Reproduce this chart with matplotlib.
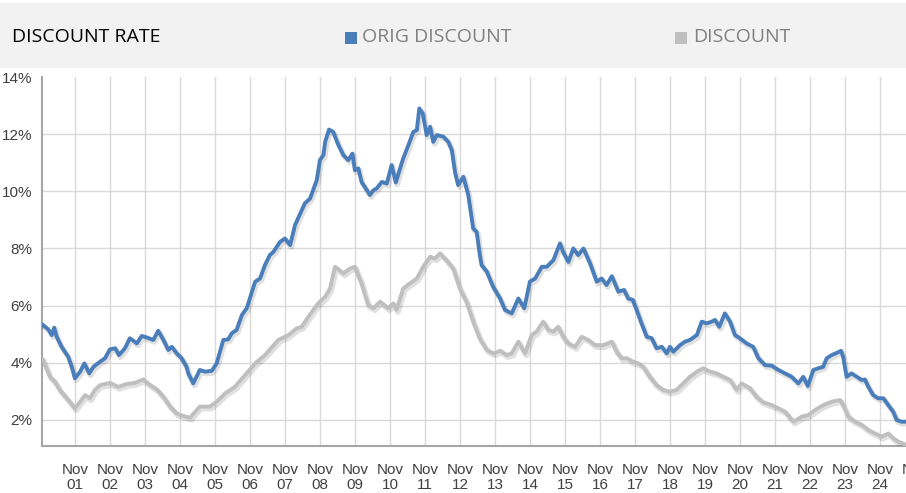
import matplotlib.pyplot as plt
import matplotlib.patheffects as pe
from matplotlib.patches import Rectangle

# dates in decimal years, values in percent
orig_dates = [2000.92, 2001.07, 2001.17, 2001.24, 2001.31, 2001.45, 2001.64, 2001.74, 2001.83, 2001.98,
              2002.10, 2002.24, 2002.36, 2002.55, 2002.69, 2002.83, 2002.98, 2003.09, 2003.26, 2003.40,
              2003.60, 2003.74, 2003.88, 2004.07, 2004.21, 2004.36, 2004.50, 2004.60, 2004.74, 2004.88,
              2005.02, 2005.07, 2005.21, 2005.40, 2005.55, 2005.74, 2005.88, 2006.07, 2006.21, 2006.31,
              2006.45, 2006.60, 2006.74, 2006.98, 2007.12, 2007.26, 2007.40, 2007.50, 2007.69, 2007.83,
              2007.98, 2008.12, 2008.40, 2008.55, 2008.74, 2008.83, 2008.93, 2008.98, 2009.09, 2009.21,
              2009.36, 2009.50, 2009.64, 2009.76, 2009.83, 2009.93, 2010.02, 2010.17, 2010.26, 2010.36,
              2010.45, 2010.60, 2010.74, 2010.88, 2011.00, 2011.12, 2011.21, 2011.36, 2011.50, 2011.60,
              2011.67, 2011.77, 2011.88, 2011.98, 2012.07, 2012.17, 2012.36, 2012.50, 2012.60, 2012.69,
              2012.78, 2012.93, 2013.07, 2013.21, 2013.31, 2013.40, 2013.45, 2013.60, 2013.78, 2013.98,
              2014.12, 2014.31, 2014.50, 2014.67, 2014.83, 2014.98, 2015.17, 2015.31, 2015.50, 2015.69,
              2015.78, 2015.93, 2016.07, 2016.21, 2016.36, 2016.55, 2016.74, 2016.88, 2017.02, 2017.17,
              2017.36, 2017.52, 2017.64, 2017.77, 2017.88, 2018.02, 2018.17, 2018.31, 2018.45, 2018.60,
              2018.74, 2018.83, 2018.93, 2019.12, 2019.26, 2019.40, 2019.60, 2019.74, 2019.88, 2020.02,
              2020.12, 2020.24, 2020.40, 2020.55, 2020.69, 2020.83, 2021.02, 2021.21, 2021.36, 2021.55,
              2021.74, 2021.93, 2022.12, 2022.31, 2022.50, 2022.64, 2022.77, 2022.93, 2023.07, 2023.21,
              2023.31, 2023.45, 2023.60, 2023.72, 2023.78, 2023.88, 2024.02, 2024.17, 2024.31, 2024.40,
              2024.50, 2024.64, 2024.78, 2024.93, 2025.07, 2025.21, 2025.31, 2025.45, 2025.58]
orig_discount = [5.32, 5.17, 4.97, 5.23, 4.91, 4.56, 4.21, 3.86, 3.46, 3.69,
                 3.98, 3.63, 3.86, 4.04, 4.16, 4.47, 4.51, 4.27, 4.51, 4.86,
                 4.68, 4.94, 4.89, 4.80, 5.12, 4.80, 4.45, 4.56, 4.33, 4.16,
                 3.86, 3.63, 3.28, 3.75, 3.69, 3.72, 3.98, 4.80, 4.82, 5.03,
                 5.15, 5.67, 5.91, 6.84, 6.95, 7.42, 7.77, 7.88, 8.23, 8.35,
                 8.12, 8.82, 9.58, 9.75, 10.39, 11.09, 11.27, 11.73, 12.16, 12.08,
                 11.62, 11.27, 11.09, 11.32, 10.74, 10.80, 10.33, 10.04, 9.87, 10.04,
                 10.10, 10.33, 10.27, 10.92, 10.31, 10.80, 11.15, 11.62, 12.08, 12.14,
                 12.90, 12.72, 11.97, 12.26, 11.73, 11.97, 11.91, 11.73, 11.44, 10.68,
                 10.22, 10.51, 9.87, 8.70, 8.58, 7.77, 7.42, 7.19, 6.66, 6.25,
                 5.85, 5.73, 6.25, 5.91, 6.84, 6.95, 7.36, 7.36, 7.59, 8.18,
                 7.88, 7.53, 8.00, 7.77, 8.00, 7.48, 6.84, 6.95, 6.72, 7.03,
                 6.49, 6.55, 6.25, 6.20, 5.85, 5.38, 4.91, 4.86, 4.51, 4.56,
                 4.33, 4.56, 4.39, 4.62, 4.74, 4.80, 4.97, 5.44, 5.38, 5.44,
                 5.50, 5.26, 5.73, 5.44, 4.97, 4.86, 4.68, 4.56, 4.16, 3.92,
                 3.90, 3.75, 3.63, 3.51, 3.28, 3.51, 3.19, 3.75, 3.81, 3.86,
                 4.16, 4.27, 4.35, 4.42, 4.21, 3.51, 3.63, 3.51, 3.40, 3.42,
                 3.16, 2.87, 2.76, 2.76, 2.52, 2.29, 2.00, 1.94, 1.94]

disc_dates = [2000.92, 2001.12, 2001.26, 2001.40, 2001.60, 2001.83, 2001.98, 2002.12, 2002.26, 2002.40,
              2002.55, 2002.83, 2003.07, 2003.31, 2003.55, 2003.78, 2003.98, 2004.17, 2004.36, 2004.55,
              2004.74, 2004.93, 2005.12, 2005.40, 2005.69, 2005.88, 2006.12, 2006.40, 2006.69, 2006.98,
              2007.26, 2007.64, 2007.93, 2008.17, 2008.31, 2008.50, 2008.78, 2008.98, 2009.12, 2009.26,
              2009.50, 2009.69, 2009.83, 2010.02, 2010.21, 2010.36, 2010.55, 2010.78, 2010.93, 2011.02,
              2011.21, 2011.40, 2011.60, 2011.78, 2011.98, 2012.12, 2012.26, 2012.45, 2012.64, 2012.83,
              2013.02, 2013.21, 2013.40, 2013.60, 2013.78, 2013.98, 2014.17, 2014.31, 2014.50, 2014.69,
              2014.88, 2015.02, 2015.21, 2015.36, 2015.50, 2015.64, 2015.78, 2015.93, 2016.12, 2016.31,
              2016.50, 2016.69, 2016.93, 2017.17, 2017.31, 2017.45, 2017.60, 2017.78, 2017.93, 2018.07,
              2018.26, 2018.45, 2018.64, 2018.83, 2019.02, 2019.21, 2019.40, 2019.60, 2019.78, 2019.98,
              2020.17, 2020.36, 2020.55, 2020.74, 2020.88, 2021.12, 2021.31, 2021.50, 2021.74, 2021.93,
              2022.12, 2022.36, 2022.60, 2022.78, 2022.98, 2023.21, 2023.45, 2023.69, 2023.78, 2023.93,
              2024.12, 2024.31, 2024.50, 2024.69, 2024.88, 2025.07, 2025.21, 2025.36, 2025.58]
discount = [4.10, 3.51, 3.34, 3.05, 2.76, 2.41, 2.64, 2.87, 2.76, 3.05,
            3.22, 3.30, 3.16, 3.26, 3.30, 3.42, 3.22, 3.07, 2.81, 2.47,
            2.23, 2.14, 2.08, 2.47, 2.47, 2.64, 2.93, 3.16, 3.57, 3.98,
            4.27, 4.80, 4.97, 5.21, 5.26, 5.61, 6.08, 6.31, 6.60, 7.36,
            7.13, 7.30, 7.36, 6.78, 6.02, 5.91, 6.14, 5.91, 6.08, 5.85,
            6.60, 6.78, 6.95, 7.36, 7.71, 7.65, 7.83, 7.59, 7.30, 6.60,
            6.14, 5.44, 4.85, 4.45, 4.33, 4.42, 4.27, 4.33, 4.74, 4.33,
            4.97, 5.09, 5.44, 5.15, 5.09, 5.26, 4.91, 4.68, 4.56, 4.91,
            4.80, 4.62, 4.62, 4.74, 4.39, 4.16, 4.16, 4.04, 3.98, 3.86,
            3.51, 3.22, 3.05, 2.99, 3.05, 3.28, 3.51, 3.69, 3.81, 3.69,
            3.63, 3.51, 3.40, 3.05, 3.28, 3.11, 2.81, 2.62, 2.52, 2.41,
            2.29, 1.94, 2.12, 2.17, 2.35, 2.52, 2.64, 2.70, 2.52, 2.12,
            1.94, 1.83, 1.65, 1.53, 1.42, 1.53, 1.36, 1.24, 1.13]

tick_years = list(range(2001, 2026))
tick_labels = [f"Nov\n{y % 100:02d}" for y in tick_years]
y_ticks = [2, 4, 6, 8, 10, 12, 14]

blue = '#4a7ebb'
grey = '#bfbfbf'

W, H = 906, 493
fig = plt.figure(figsize=(W / 100, H / 100), dpi=100)

# header band
fig.patches.append(Rectangle((0, 1 - 68 / H), 1, 65 / H, transform=fig.transFigure,
                             facecolor='#f2f2f2', edgecolor='none', zorder=0))
head_font = ['Liberation Sans Narrow', 'Open Sans', 'DejaVu Sans']
fig.text(12 / W, 1 - 37 / H, 'DISCOUNT RATE', fontsize=14, color='black',
         va='center', ha='left', family=head_font)
fig.patches.append(Rectangle((345 / W, 1 - 44 / H), 12 / W, 12 / H, transform=fig.transFigure,
                             facecolor=blue, edgecolor='none'))
fig.text(362 / W, 1 - 37 / H, 'ORIG DISCOUNT', fontsize=14, color='#808080',
         va='center', ha='left', family=head_font)
fig.patches.append(Rectangle((675 / W, 1 - 44 / H), 12 / W, 12 / H, transform=fig.transFigure,
                             facecolor=grey, edgecolor='none'))
fig.text(693 / W, 1 - 37 / H, 'DISCOUNT', fontsize=14, color='#808080',
         va='center', ha='left', family=head_font)

# plot area runs past the right edge of the picture
x_left, x_right = 42, 940
ax = fig.add_axes([x_left / W, 1 - 446 / H, (x_right - x_left) / W, (446 - 77) / H])

def px_to_year(px):
    return 1999.69 + px / 35.0

shadow = [pe.SimpleLineShadow(offset=(1, -1.5), shadow_color='black', alpha=0.12, linewidth=4),
          pe.Normal()]
ax.plot(disc_dates, discount, color=grey, lw=2.8, solid_joinstyle='round',
        path_effects=shadow, zorder=3)
ax.plot(orig_dates, orig_discount, color=blue, lw=2.8, solid_joinstyle='round',
        path_effects=shadow, zorder=4)

ax.set_xlim(px_to_year(x_left), px_to_year(x_right))
ax.set_ylim(1.09, 14)

ax.set_xticks([y + 10 / 12 for y in tick_years])
ax.set_xticklabels(tick_labels, fontsize=11, color='#404040', linespacing=1.15,
                   family='Liberation Sans')
ax.set_yticks(y_ticks)
ax.set_yticklabels([f"{v}%" for v in y_ticks], fontsize=11, color='#404040',
                   family='Liberation Sans')
ax.tick_params(length=0, pad=7)
ax.tick_params(axis='x', pad=12)

ax.grid(True, color='#d9d9d9', lw=1)
ax.set_axisbelow(True)
for side in ['top', 'right']:
    ax.spines[side].set_visible(False)
for side in ['left', 'bottom']:
    ax.spines[side].set_color('#a6a6a6')
    ax.spines[side].set_linewidth(1.5)

fig.canvas.draw()
ax.yaxis.get_gridlines()[-1].set_visible(False)

fig.savefig('out.png', dpi=100)
